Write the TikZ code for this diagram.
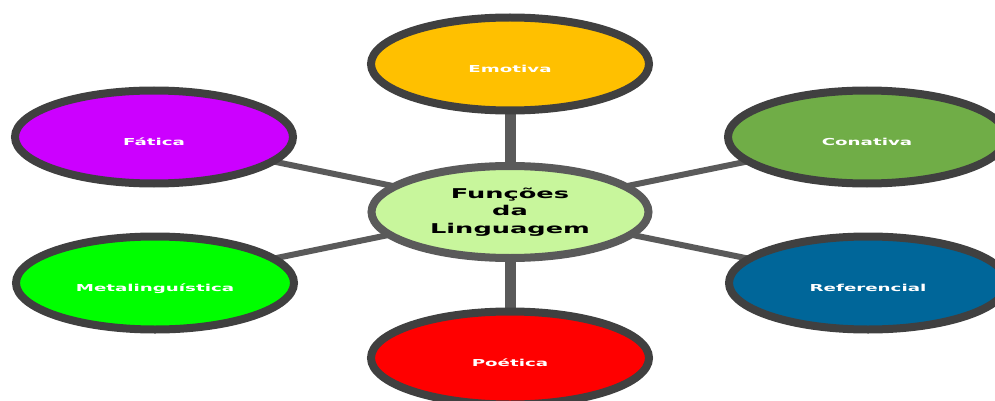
\documentclass[tikz,border=0pt]{standalone}
\usepackage{fontspec}
\usepackage{graphicx}
\setmainfont{DejaVu Sans}
\usetikzlibrary{shapes.geometric}
\definecolor{rim}{HTML}{404040}
\definecolor{hubrim}{HTML}{5A5A5A}
\definecolor{link}{HTML}{5A5A5A}
\definecolor{hubfill}{RGB}{200,246,156}
\definecolor{cEmo}{HTML}{FFC000}
\definecolor{cFat}{HTML}{CC00FF}
\definecolor{cCon}{HTML}{70AD47}
\definecolor{cMet}{HTML}{00FF00}
\definecolor{cRef}{HTML}{006699}
\definecolor{cPoe}{HTML}{FF0000}
\newcommand{\wide}[1]{\scalebox{1.9}[1]{#1}}
\tikzset{
  leaf/.style={ellipse, draw=rim, line width=8pt, fill=#1, minimum width=278pt, minimum height=93pt, inner sep=0pt,
    text=white, font=\fontsize{9.6}{11}\selectfont\bfseries, text height=17pt, text depth=0pt},
  hub/.style={ellipse, draw=hubrim, line width=8pt, fill=hubfill, minimum width=277pt, minimum height=92pt, inner sep=0pt,
    text=black, font=\fontsize{13.5}{16.5}\selectfont\bfseries, align=center},
  spoke/.style={draw=link, line width=6pt},
  stem/.style={draw=link, line width=11pt}
}
\begin{document}
\begin{tikzpicture}[x=1pt,y=-1pt]
\useasboundingbox (0,0) rectangle (995,401);
\coordinate (ch) at (510,210);
\coordinate (ce) at (510,64);
\coordinate (cf) at (154,137);
\coordinate (cc) at (867,137);
\coordinate (cm) at (155,283);
\coordinate (cr) at (868,283);
\coordinate (cp) at (510,358);
\draw[stem] (ch) -- (ce);
\draw[stem] (ch) -- (cp);
\draw[spoke] (ch) -- (cf);
\draw[spoke] (ch) -- (cc);
\draw[spoke] (ch) -- (cm);
\draw[spoke] (ch) -- (cr);
\node[hub] (hub) at ([yshift=-2pt]ch) {\wide{Funções}\\[1pt]\wide{da}\\[1pt]\wide{Linguagem}};
\node[leaf=cEmo] (emo) at (ce) {\wide{Emotiva}};
\node[leaf=cFat] (fat) at (cf) {\wide{Fática}};
\node[leaf=cCon] (con) at (cc) {\wide{Conativa}};
\node[leaf=cMet] (met) at (cm) {\wide{Metalinguística}};
\node[leaf=cRef] (ref) at (cr) {\wide{Referencial}};
\node[leaf=cPoe] (poe) at (cp) {\wide{Poética}};
\end{tikzpicture}
\end{document}
